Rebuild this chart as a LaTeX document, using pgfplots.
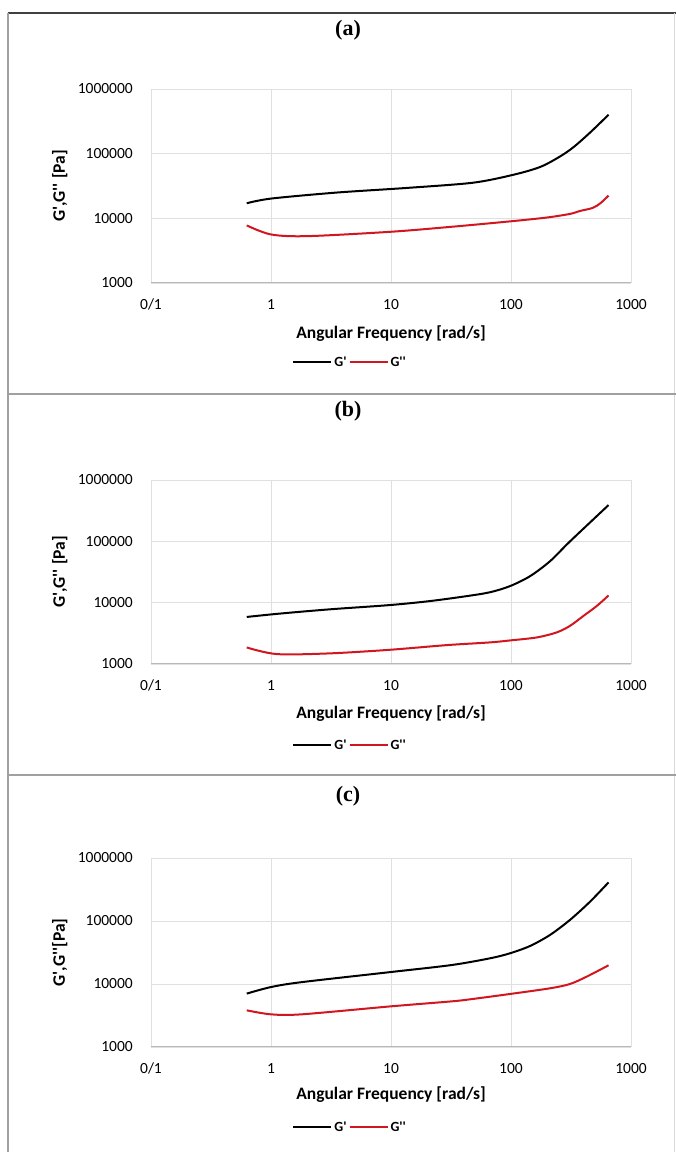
\documentclass[border=0pt]{standalone}
\usepackage{fontspec}
\usepackage{pgfplots}
\pgfplotsset{compat=1.18}
\newfontfamily\carlito{Carlito}
\newfontfamily\tnr{Liberation Serif}
\definecolor{gred}{RGB}{210,22,32}
\definecolor{sep}{RGB}{160,160,160}

\pgfplotsset{
  panel/.style={
    scale only axis,
    width=480bp,
    xmin=0.1, xmax=1000, ymin=1000, ymax=1000000,
    xtick={0.1,1,10,100,1000},
    xticklabels={0/1,1,10,100,1000},
    ytick={1000,10000,100000,1000000},
    yticklabels={1000,10000,100000,1000000},
    xminorticks=false, yminorticks=false,
    major tick length=0pt,
    axis line style={draw=none},
    grid=major,
    grid style={color=black!12, line width=0.9bp},
    xticklabel style={font=\carlito\fontsize{15.5bp}{18bp}\selectfont, inner sep=0pt, anchor=north, yshift=-16bp},
    yticklabel style={font=\carlito\fontsize{15.5bp}{18bp}\selectfont, inner sep=0pt, anchor=east, xshift=-18bp},
    xlabel={Angular Frequency [rad/s]},
    xlabel style={font=\carlito\bfseries\fontsize{17.5bp}{20bp}\selectfont, at={(axis description cs:0.5,0)}, anchor=center},
    ylabel style={font=\carlito\bfseries\fontsize{17.5bp}{20bp}\selectfont, at={(axis description cs:-0.19,0.5)}, anchor=center},
    legend columns=2,
    legend image code/.code={\draw[#1] (0bp,0bp) -- (38bp,0bp);},
    legend style={draw=none, fill=none, inner sep=0pt, anchor=center,
      font=\carlito\bfseries\fontsize{14bp}{16bp}\selectfont,
      at={(axis description cs:0.415,0)},
      every even column/.append style={column sep=9bp}},
    legend cell align=left,
    every axis plot/.append style={line width=2bp, smooth},
  }
}

\begin{document}
\begin{tikzpicture}
\useasboundingbox (0,0) rectangle (676bp,1152bp);
\fill[white] (0,0) rectangle (676bp,1152bp);

% frame and separators
\draw[black!75, line width=1.4bp] (8bp,1139bp) -- (676bp,1139bp);
\draw[sep, line width=1.6bp] (8bp,0bp) -- (8bp,1139bp);
\draw[black!15, line width=1bp] (674bp,0bp) -- (674bp,1139bp);
\draw[sep, line width=2.5bp] (8bp,758bp) -- (676bp,758bp);
\draw[sep, line width=2.5bp] (8bp,377bp) -- (676bp,377bp);

% panel titles
\node[font=\tnr\bfseries\fontsize{22bp}{24bp}\selectfont] at (348bp,1122bp) {(a)};
\node[font=\tnr\bfseries\fontsize{22bp}{24bp}\selectfont] at (348bp,741bp) {(b)};
\node[font=\tnr\bfseries\fontsize{22bp}{24bp}\selectfont] at (348bp,356bp) {(c)};

% (a)
\begin{loglogaxis}[panel, height=194bp, at={(151bp,869bp)}, anchor=south west,
  ylabel={G',G'' [Pa]},
  xlabel style={yshift=-51bp},
  legend style={yshift=-79bp}]
\addplot[black] coordinates {(0.628,17100) (1,20200) (3.5,25000) (13.5,29500) (48,35500) (104,47000) (174,62000) (250,88000) (330,125000) (460,215000) (650,400000)};
\addplot[gred] coordinates {(0.628,7770) (1,5630) (2,5300) (10,6200) (32,7400) (100,9000) (200,10300) (310,11700) (376,13000) (480,14500) (560,17300) (650,22500)};
\legend{G',G''}
\draw[black!28, line width=1bp] (rel axis cs:0,0) -- (rel axis cs:1,0);
\end{loglogaxis}

% (b)
\begin{loglogaxis}[panel, height=184bp, at={(151bp,488bp)}, anchor=south west,
  ylabel={G',G'' [Pa]},
  xlabel style={yshift=-50bp},
  legend style={yshift=-81bp}]
\addplot[black] coordinates {(0.628,5850) (1.19,6640) (3.1,7790) (9.8,9140) (21,10600) (43,12800) (67,14800) (98,18600) (144,27000) (211,47200) (310,99600) (650,390000)};
\addplot[gred] coordinates {(0.628,1860) (1.12,1450) (3.1,1490) (9.8,1705) (29,2030) (67,2250) (98,2420) (164,2710) (240,3270) (310,4180) (401,6070) (518,8810) (650,13100)};
\legend{G',G''}
\draw[black!28, line width=1bp] (rel axis cs:0,0) -- (rel axis cs:1,0);
\end{loglogaxis}

% (c)
\begin{loglogaxis}[panel, height=189bp, at={(151bp,105bp)}, anchor=south west,
  ylabel={G',G''[Pa]},
  xlabel style={yshift=-48bp},
  legend style={yshift=-80bp}]
\addplot[black] coordinates {(0.628,7040) (1,8950) (1.8,10700) (10,15500) (32,20000) (67,25600) (98,30700) (144,40100) (211,59900) (310,104000) (455,202000) (650,410000)};
\addplot[gred] coordinates {(0.628,3820) (1,3300) (1.8,3300) (10,4420) (32,5300) (45.5,5710) (98,6940) (211,8540) (310,10000) (428,13100) (650,19800)};
\legend{G',G''}
\draw[black!28, line width=1bp] (rel axis cs:0,0) -- (rel axis cs:1,0);
\end{loglogaxis}
\end{tikzpicture}
\end{document}
